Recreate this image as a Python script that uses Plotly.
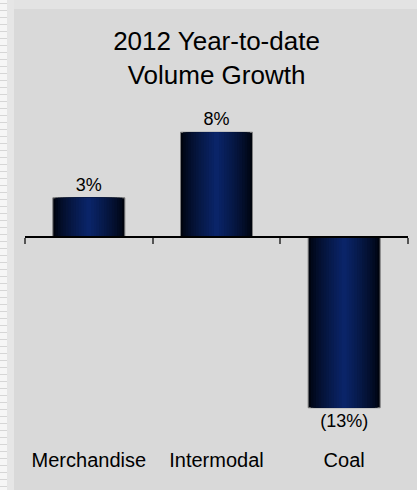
import plotly.graph_objects as go

categories = ["Merchandise", "Intermodal", "Coal"]
growth_pct = [3, 8, -13]
value_labels = ["3%", "8%", "(13%)"]
title_lines = ["2012 Year-to-date", "Volume Growth"]

W, H = 417, 490
ML, MR, MT, MB = 25, 9, 106, 56
plot_w = W - ML - MR
plot_h = H - MT - MB

def px_x(px):
    return (px - ML) / plot_w

def px_y(py):
    return (H - MB - py) / plot_h

FONT = "Arial, Liberation Sans, Helvetica, sans-serif"

fig = go.Figure()

# gradient bars: overlaid layers of decreasing width
base_w = 0.564
N = 14
edge = (0, 4, 14)
center = (10, 36, 104)
for k in range(N):
    t = k / (N - 1)
    t = t ** 0.8
    col = tuple(round(edge[i] + (center[i] - edge[i]) * t) for i in range(3))
    w = base_w * (1 - k / N)
    kwargs = {}
    if k == 0:
        kwargs = dict(text=value_labels, textposition="outside",
                      textfont=dict(size=18, color="black", family=FONT),
                      constraintext="none", cliponaxis=False)
    fig.add_trace(go.Bar(
        x=categories, y=growth_pct, width=[w] * len(categories),
        marker=dict(color="rgb(%d,%d,%d)" % col,
                    line=dict(color="#7f7f7f" if k == 0 else "rgba(0,0,0,0)",
                              width=1 if k == 0 else 0)),
        hoverinfo="skip", showlegend=False, **kwargs))

# invisible trace to build the zero-line axis with boundary ticks
fig.add_trace(go.Bar(x=categories, y=growth_pct, xaxis="x2", opacity=0,
                     hoverinfo="skip", showlegend=False))

shapes = []
# top bevel strip
shapes.append(dict(type="rect", xref="paper", yref="paper", layer="below",
                   x0=px_x(0), x1=px_x(W), y0=px_y(0), y1=px_y(9),
                   fillcolor="#e3e3e3", line=dict(width=0)))
# left bevel
shapes.append(dict(type="rect", xref="paper", yref="paper", layer="below",
                   x0=px_x(7), x1=px_x(14), y0=px_y(0), y1=px_y(H),
                   fillcolor="#e6e6e6", line=dict(width=0)))
# left striped strip
shapes.append(dict(type="rect", xref="paper", yref="paper", layer="below",
                   x0=px_x(0), x1=px_x(7), y0=px_y(0), y1=px_y(H),
                   fillcolor="#f6f6f6", line=dict(width=0)))
for yy in range(3, H, 7):
    shapes.append(dict(type="line", xref="paper", yref="paper", layer="below",
                       x0=px_x(0), x1=px_x(7), y0=px_y(yy + 0.5), y1=px_y(yy + 0.5),
                       line=dict(color="#d6d6d6", width=1)))

fig.update_layout(
    width=W, height=H,
    margin=dict(l=ML, r=MR, t=MT, b=MB, pad=0),
    paper_bgcolor="#d9d9d9", plot_bgcolor="#d9d9d9",
    barmode="overlay",
    title=dict(text="<br>".join(title_lines), x=0.5, xref="paper",
               y=1 - 50 / H, yref="container", yanchor="middle",
               font=dict(size=26, color="black", family=FONT)),
    font=dict(family=FONT, color="black"),
    xaxis=dict(type="category", categoryorder="array", categoryarray=categories,
               range=[-0.5, 2.5], showline=False, showgrid=False, zeroline=False,
               ticks="", tickfont=dict(size=20, color="black", family=FONT),
               ticklabelstandoff=12, fixedrange=True),
    xaxis2=dict(type="category", categoryorder="array", categoryarray=categories,
                range=[-0.5, 2.5], overlaying="x", anchor="free", position=0.6,
                showline=True, linecolor="black", linewidth=1.5,
                ticks="outside", tickson="boundaries", ticklen=6, tickcolor="#555555",
                tickwidth=1.5, showticklabels=False, showgrid=False, zeroline=False),
    yaxis=dict(range=[-15, 10], visible=False, showgrid=False, zeroline=False),
    shapes=shapes,
)

fig.write_html("out.html", config={"displayModeBar": False},
               post_script="document.body.style.margin='0';")
